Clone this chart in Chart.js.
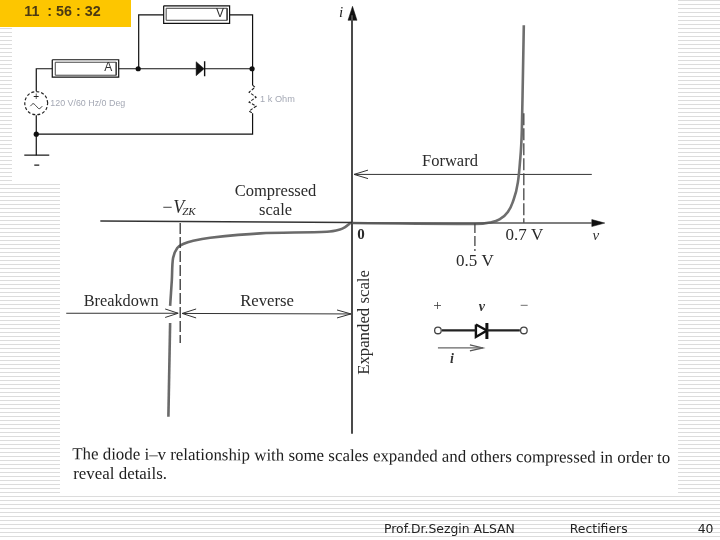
<!DOCTYPE html>
<html><head><meta charset="utf-8">
<style>
html,body{margin:0;padding:0;background:#fff}
#page{position:relative;width:720px;height:540px;overflow:hidden;background:repeating-linear-gradient(to bottom,#dcdcdc 0,#dcdcdc 1px,#fff 1px,#fff 4px)}
.p{position:absolute}
#c{position:absolute;left:0;top:0;filter:blur(0.45px)}
</style>
<script src="https://cdn.jsdelivr.net/npm/chart.js@4/dist/chart.umd.min.js"></script>
</head><body>
<div id="page">
<div class="p" style="left:60px;top:0;width:618px;height:495px;background:#fff"></div>
<div class="p" style="left:12px;top:0;width:48px;height:184px;background:#fff"></div>
<div class="p" style="left:0;top:0;width:131px;height:27px;background:#fdc600"></div>
<canvas id="c" width="720" height="540"></canvas>
</div>
<script>
// i-v characteristic (v in volts, i in figure units)
const forwardV=[0,0.195,0.427,0.5,0.561,0.602,0.634,0.654,0.675,0.683,0.691,0.695,0.699];
const forwardI=[0,-0.25,-0.5,-0.5,0.25,2,5.5,10.5,20.5,30,46.5,71.5,99];
const reverseV=[-0.004,-0.028,-0.049,-0.102,-0.374,-0.577,-0.646,-0.687,-0.711,-0.728,-0.733,-0.74];
const reverseI=[0.25,-2,-3.2,-4.35,-5.15,-7.35,-8.85,-10.5,-12.5,-17.5,-28.5,-41.5];
const breakdownV=[-0.74,-0.747];
const breakdownI=[-50,-97];
const axisV=[-1.024,0.976];
const axisI=[104,-105.5];
const kneeV=[-0.699,0.5,0.699];

// Schematic polylines, in picture units
const ammeterOuter=[[52,59.5],[118.5,59.5],[118.5,77],[52,77],[52,59.5]];
const ammeterInner=[[55,62],[116,62],[116,75],[55,75],[55,62]];
const voltmeterOuter=[[163.5,5.5],[229.5,5.5],[229.5,23],[163.5,23],[163.5,5.5]];
const voltmeterInner=[[166,8],[227,8],[227,20],[166,20],[166,8]];
const wireLoop=[[52,68.5],[36,68.5],[36,91]];
const wireGround=[[36,115],[36,155]];
const wireSeries=[[118.5,68.5],[196,68.5]];
const wireDiodeOut=[[204,68.5],[252.5,68.5]];
const wireShuntA=[[138.5,68.5],[138.5,14.5],[163.5,14.5]];
const wireShuntB=[[229.5,14.5],[252.5,14.5],[252.5,85]];
const wireReturn=[[252.5,113],[252.5,134],[36,134]];
const groundBar=[[24,155],[49,155]];
const groundMinus=[[34,165],[39,165]];
const resistor=[[252.5,85],[255,87],[249,92],[256,97],[249,102],[256,106],[249,111],[252.5,113]];
const sourceRing=[[47.5,103],[46,97.3],[42,93],[36,91.5],[30,93],[26,97.3],[24.5,103],[26,108.8],[30,113],[36,114.5],[42,113],[46,108.8],[47.5,103]];
const sourceWave=[[30,106],[33,103.5],[36,106],[39,108.5],[42,106]];
const junctions=[[138,68.5],[252,68.5],[36,134]];
const schemDiode=[[196,61.5],[204,68.5],[196,75.5],[196,61.5]];
const schemDiodeBar=[[204.5,61],[204.5,76]];
const axisHeadX=[[592,219.5],[605,223],[592,226.5],[592,219.5]];
const axisHeadY=[[348,20],[352.5,6],[357,20],[348,20]];
const forwardArrow=[[592,174.3],[354,174.3]];
const forwardHead=[[368,170],[354,174.3],[368,178.5]];
const breakdownArrow=[[66,313.3],[178,313.3]];
const breakdownHead=[[165,309],[178,313.3],[165,317.5]];
const reverseArrow=[[182,313.5],[351,314]];
const reverseHeadL=[[196,309],[182,313.5],[196,318]];
const reverseHeadR=[[337,310],[351,314],[337,318]];
const symWireL=[[442,330.5],[476,330.5]];
const symWireR=[[487,330.5],[520,330.5]];
const symDiode=[[476,324.5],[487,330.5],[476,337],[476,324.5]];
const symBar=[[487,323],[487,339]];
const symTerminals=[[438,330.5],[524,330.5]];
const symArrow=[[438,348],[483,348]];
const symHead=[[470,345],[483,348],[470,351]];

// Text
const clockText='11  : 56 : 32';
const sourceText='120 V/60 Hz/0 Deg';
const loadText='1 k Ohm';
const captionLines=['The diode i\u2013v relationship with some scales expanded and others compressed in order to','reveal details.'];
const footerTexts=['Prof.Dr.Sezgin ALSAN','Rectifiers','40'];

const zip=(a,b)=>a.map((x,k)=>({x,y:b[k]}));
const xy=a=>a.map(p=>({x:p[0],y:p[1]}));
const base={pointRadius:0,fill:false,tension:0,borderCapStyle:'butt',spanGaps:false,clip:false};
const main=(data,color,w,extra)=>Object.assign({},base,{data,borderColor:color,borderWidth:w,xAxisID:'x',yAxisID:'y'},extra||{});
const pic=(pts,color,w,extra)=>Object.assign({},base,{data:xy(pts),borderColor:color,borderWidth:w,xAxisID:'px',yAxisID:'py'},extra||{});
const solid=(pts,color)=>pic(pts,color,0.5,{fill:'shape',backgroundColor:color});
const dots=(pts,r,fill,stroke,w)=>Object.assign({},base,{data:xy(pts),showLine:false,pointRadius:r,pointBackgroundColor:fill,pointBorderColor:stroke,pointBorderWidth:w,xAxisID:'px',yAxisID:'py'});

const K='#111',D='#333';
const datasets=[
 main(zip([-1.024,0],[1,0.25]),'#333',1.4),
 main(zip([0,axisV[1]],[0,0]),'#555',1.6),
 main(zip([0,0],axisI),'#4a4a4a',2),
 main(zip([kneeV[0],kneeV[0]],[0,-60]),'#333',1.3,{borderDash:[11,3]}),
 main(zip([kneeV[1],kneeV[1]],[0,-14]),'#444',1.3,{borderDash:[10,3]}),
 main(zip([kneeV[2],kneeV[2]],[55,0]),'#444',1.3,{borderDash:[12,3]}),
 main(zip(forwardV,forwardI),'#6e6e6e',2.6,{cubicInterpolationMode:'monotone'}),
 main(zip(reverseV,reverseI),'#6a6a6a',2.6,{tension:0.3}),
 main(zip(breakdownV,breakdownI),'#6a6a6a',2.6),
 solid(axisHeadX,'#111'),solid(axisHeadY,'#111'),
 pic(forwardArrow,D,1),pic(forwardHead,D,1),
 pic(breakdownArrow,D,1),pic(breakdownHead,D,1),
 pic(reverseArrow,D,1),pic(reverseHeadL,D,1),pic(reverseHeadR,D,1),
 pic(ammeterOuter,K,1.2),pic(ammeterInner,'#444',1),
 pic(voltmeterOuter,K,1.2),pic(voltmeterInner,'#444',1),
 pic(wireLoop,K,1.2),pic(wireGround,K,1.2),pic(wireSeries,K,1.2),pic(wireDiodeOut,K,1.2),
 pic(wireShuntA,K,1.2),pic(wireShuntB,K,1.2),pic(wireReturn,K,1.2),
 pic(groundBar,K,1.2),pic(groundMinus,K,1.2),
 pic(resistor,'#222',1.1,{borderDash:[3,1.5]}),
 pic(sourceRing,'#222',1.2,{borderDash:[3,2],tension:0.35}),
 pic(sourceWave,'#333',1,{tension:0.4}),
 dots(junctions,2.6,K,K,0),
 solid(schemDiode,K),pic(schemDiodeBar,K,1.4),
 pic(symWireL,'#222',2.2),pic(symWireR,'#222',2.2),
 pic(symDiode,'#111',2.4),pic(symBar,'#111',3),
 dots(symTerminals,3.3,'#fff','#444',1.3),
 pic(symArrow,'#666',1.2),pic(symHead,'#555',1.2)
];

const SERIF='"Liberation Serif"',SANS='"DejaVu Sans"';
const labels=[
 {t:clockText,x:24,y:11.5,f:'bold 14.3px "Liberation Sans"',c:'#4c3a12'},
 {t:'A',x:108,y:67.5,f:'12px "Liberation Sans"',c:'#333',a:'center'},
 {t:'V',x:220,y:13.5,f:'12px "Liberation Sans"',c:'#333',a:'center'},
 {t:'+',x:36,y:97,f:'10px "Liberation Sans"',c:'#222',a:'center'},
 {t:sourceText,x:50,y:103.5,f:'8.9px "Liberation Sans"',c:'#a4a8b4'},
 {t:loadText,x:260,y:99.5,f:'9.2px "Liberation Sans"',c:'#a4a8b4'},
 {t:'i',x:341,y:13,f:'italic 15px '+SERIF,c:'#222',a:'center'},
 {t:'Forward',x:450,y:162,f:'16.5px '+SERIF,c:'#2a2a2a',a:'center'},
 {t:'Compressed',x:275.5,y:192,f:'16.5px '+SERIF,c:'#2a2a2a',a:'center'},
 {t:'scale',x:275.5,y:211,f:'16.5px '+SERIF,c:'#2a2a2a',a:'center'},
 {t:'\u2212V',x:161,y:208.5,f:'italic 18px '+SERIF,c:'#2a2a2a'},
 {t:'ZK',x:182,y:212,f:'italic 11px '+SERIF,c:'#2a2a2a'},
 {t:'Breakdown',x:121,y:302,f:'16.3px '+SERIF,c:'#2a2a2a',a:'center'},
 {t:'Reverse',x:267,y:302,f:'16.7px '+SERIF,c:'#2a2a2a',a:'center'},
 {t:'0',x:361,y:235.5,f:'bold 15px '+SERIF,c:'#2a2a2a',a:'center'},
 {t:'0.7 V',x:524.5,y:235.5,f:'17px '+SERIF,c:'#2a2a2a',a:'center'},
 {t:'0.5 V',x:475,y:261.5,f:'17px '+SERIF,c:'#2a2a2a',a:'center'},
 {t:'v',x:596,y:236,f:'italic 15px '+SERIF,c:'#333',a:'center'},
 {t:'Expanded scale',x:365,y:322.5,f:'16.8px '+SERIF,c:'#2a2a2a',a:'center',r:-Math.PI/2},
 {t:'+',x:437.5,y:306,f:'15px '+SERIF,c:'#333',a:'center'},
 {t:'v',x:482,y:307.5,f:'italic bold 14px '+SERIF,c:'#333',a:'center'},
 {t:'\u2212',x:524,y:306,f:'15px '+SERIF,c:'#444',a:'center'},
 {t:'i',x:452,y:359,f:'italic bold 14px '+SERIF,c:'#333',a:'center'},
 {t:captionLines[0],x:72,y:455,f:'16.9px '+SERIF,c:'#1e1e1e',r:0.0065},
 {t:captionLines[1],x:73,y:475,f:'16.9px '+SERIF,c:'#1e1e1e'},
 {t:footerTexts[0],x:384,y:530,f:'12.4px '+SANS,c:'#222'},
 {t:footerTexts[1],x:570,y:530,f:'12.4px '+SANS,c:'#222'},
 {t:footerTexts[2],x:698,y:530,f:'12.4px '+SANS,c:'#222'}
];
const textPlugin={id:'figureText',afterDatasetsDraw(chart){
 const ctx=chart.ctx,sx=chart.scales.px,sy=chart.scales.py;
 labels.forEach(l=>{
  ctx.save();
  ctx.font=l.f;ctx.fillStyle=l.c;ctx.textAlign=l.a||'left';ctx.textBaseline='middle';
  ctx.translate(sx.getPixelForValue(l.x),sy.getPixelForValue(l.y));
  if(l.r)ctx.rotate(l.r);
  ctx.fillText(l.t,0,0);
  ctx.restore();
 });
}};
const PAD=5;
new Chart(document.getElementById('c'),{
 type:'line',
 data:{datasets},
 plugins:[textPlugin],
 options:{
  responsive:false,animation:false,events:[],
  layout:{padding:PAD},
  plugins:{legend:{display:false},tooltip:{enabled:false},title:{display:false}},
  scales:{
   x:{type:'linear',display:false,min:(PAD-352)/246,max:(720-PAD-352)/246},
   y:{type:'linear',display:false,min:(223-540+PAD)/2,max:(223-PAD)/2},
   px:{type:'linear',display:false,min:PAD,max:720-PAD,axis:'x'},
   py:{type:'linear',display:false,min:PAD,max:540-PAD,reverse:true,axis:'y'}
  }
 }
});
</script>
</body></html>
